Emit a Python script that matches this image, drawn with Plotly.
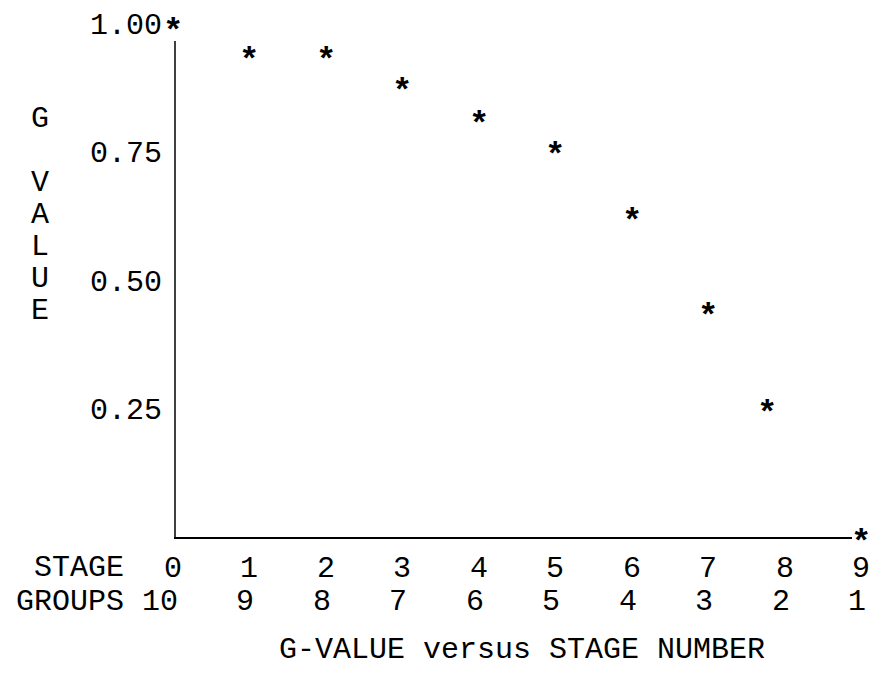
import plotly.graph_objects as go

# ---- data ----
stage = [0, 1, 2, 3, 4, 5, 6, 7, 7.77, 9]
g_value = [1.00, 0.943, 0.943, 0.883, 0.820, 0.758, 0.631, 0.445, 0.256, 0.006]
stage_ticks = [0, 1, 2, 3, 4, 5, 6, 7, 8, 9]
stage_labels = ["0", "1", "2", "3", "4", "5", "6", "7", "8", "9"]
group_labels = ["10", "9", "8", "7", "6", "5", "4", "3", "2", "1"]
y_ticks = [0.25, 0.50, 0.75, 1.00]
y_labels = ["0.25", "0.50", "0.75", "1.00"]
y_title_letters = ["G", "V", "A", "L", "U", "E"]
y_title_px = [119, 183, 215, 247, 279, 311]

FONT = "Courier New, Liberation Mono, monospace"
FS = 30
OFF = 8  # page body margin
W, H = 862, 665
# plot area in screen pixels: left 173, right 861, top 23, bottom 537
L = 173 - OFF
R = W - (861 - OFF)
T = 23 - OFF
B = H - (537 - OFF)
PW, PH = W - L - R, H - T - B


def px_to_paper_x(px):
    return (px - OFF - L) / PW


def px_to_paper_y(py):
    return (H - B - (py - OFF)) / PH


fig = go.Figure()
# invisible carrier trace for hover
fig.add_trace(go.Scatter(
    x=stage, y=g_value, mode="markers", marker=dict(size=14, opacity=0),
    cliponaxis=False, showlegend=False, hoverinfo="x+y",
))

annotations = []
# asterisk point marks, placed through the data axes
for s, g in zip(stage, g_value):
    annotations.append(dict(x=s, y=g, xref="x", yref="y", text="*", showarrow=False,
                            xanchor="center", yanchor="middle", yshift=-9,
                            font=dict(family=FONT, size=34, color="black", weight="bold")))

# axis lines
fig.add_shape(type="line", xref="paper", yref="paper", x0=px_to_paper_x(175), x1=px_to_paper_x(175),
              y0=px_to_paper_y(538), y1=px_to_paper_y(41), line=dict(color="black", width=1.5))
fig.add_shape(type="line", xref="paper", yref="paper", x0=px_to_paper_x(174), x1=px_to_paper_x(852),
              y0=px_to_paper_y(538), y1=px_to_paper_y(538), line=dict(color="black", width=2))

# two rows of x labels (stage number / number of groups)
for s, lab in zip(stage_ticks, stage_labels):
    annotations.append(dict(x=s, y=px_to_paper_y(569), xref="x", yref="paper", text=lab,
                            showarrow=False, xanchor="center", yanchor="middle",
                            font=dict(family=FONT, size=FS, color="black")))
for s, g in zip(stage_ticks, group_labels):
    annotations.append(dict(x=s, y=px_to_paper_y(602), xref="x", yref="paper", text=g,
                            showarrow=False, xanchor="right", yanchor="middle", xshift=7,
                            font=dict(family=FONT, size=FS, color="black")))
annotations.append(dict(x=px_to_paper_x(126), y=px_to_paper_y(568), xref="paper", yref="paper",
                        text="STAGE", showarrow=False, xanchor="right", yanchor="middle",
                        font=dict(family=FONT, size=FS, color="black")))
annotations.append(dict(x=px_to_paper_x(126), y=px_to_paper_y(602), xref="paper", yref="paper",
                        text="GROUPS", showarrow=False, xanchor="right", yanchor="middle",
                        font=dict(family=FONT, size=FS, color="black")))
for letter, py in zip(y_title_letters, y_title_px):
    annotations.append(dict(x=px_to_paper_x(40), y=px_to_paper_y(py), xref="paper", yref="paper",
                            text=letter, showarrow=False, xanchor="center", yanchor="middle",
                            font=dict(family=FONT, size=FS, color="black")))
annotations.append(dict(x=px_to_paper_x(522), y=px_to_paper_y(650), xref="paper", yref="paper",
                        text="G-VALUE versus STAGE NUMBER", showarrow=False,
                        xanchor="center", yanchor="middle",
                        font=dict(family=FONT, size=FS, color="black")))

fig.update_layout(
    width=W, height=H,
    margin=dict(l=L, r=R, t=T, b=B, autoexpand=False),
    paper_bgcolor="white", plot_bgcolor="white",
    font=dict(family=FONT, size=FS, color="black"),
    xaxis=dict(range=[0, 9], showticklabels=False,
               showgrid=False, zeroline=False, showline=False, ticks="", automargin=False),
    yaxis=dict(range=[0, 1.0], tickmode="array", tickvals=y_ticks, ticktext=y_labels,
               showgrid=False, zeroline=False, showline=False, ticks="", automargin=False,
               ticklabelstandoff=10, tickfont=dict(family=FONT, size=FS, color="black")),
    annotations=annotations,
    showlegend=False,
)

fig.write_html("out.html")
